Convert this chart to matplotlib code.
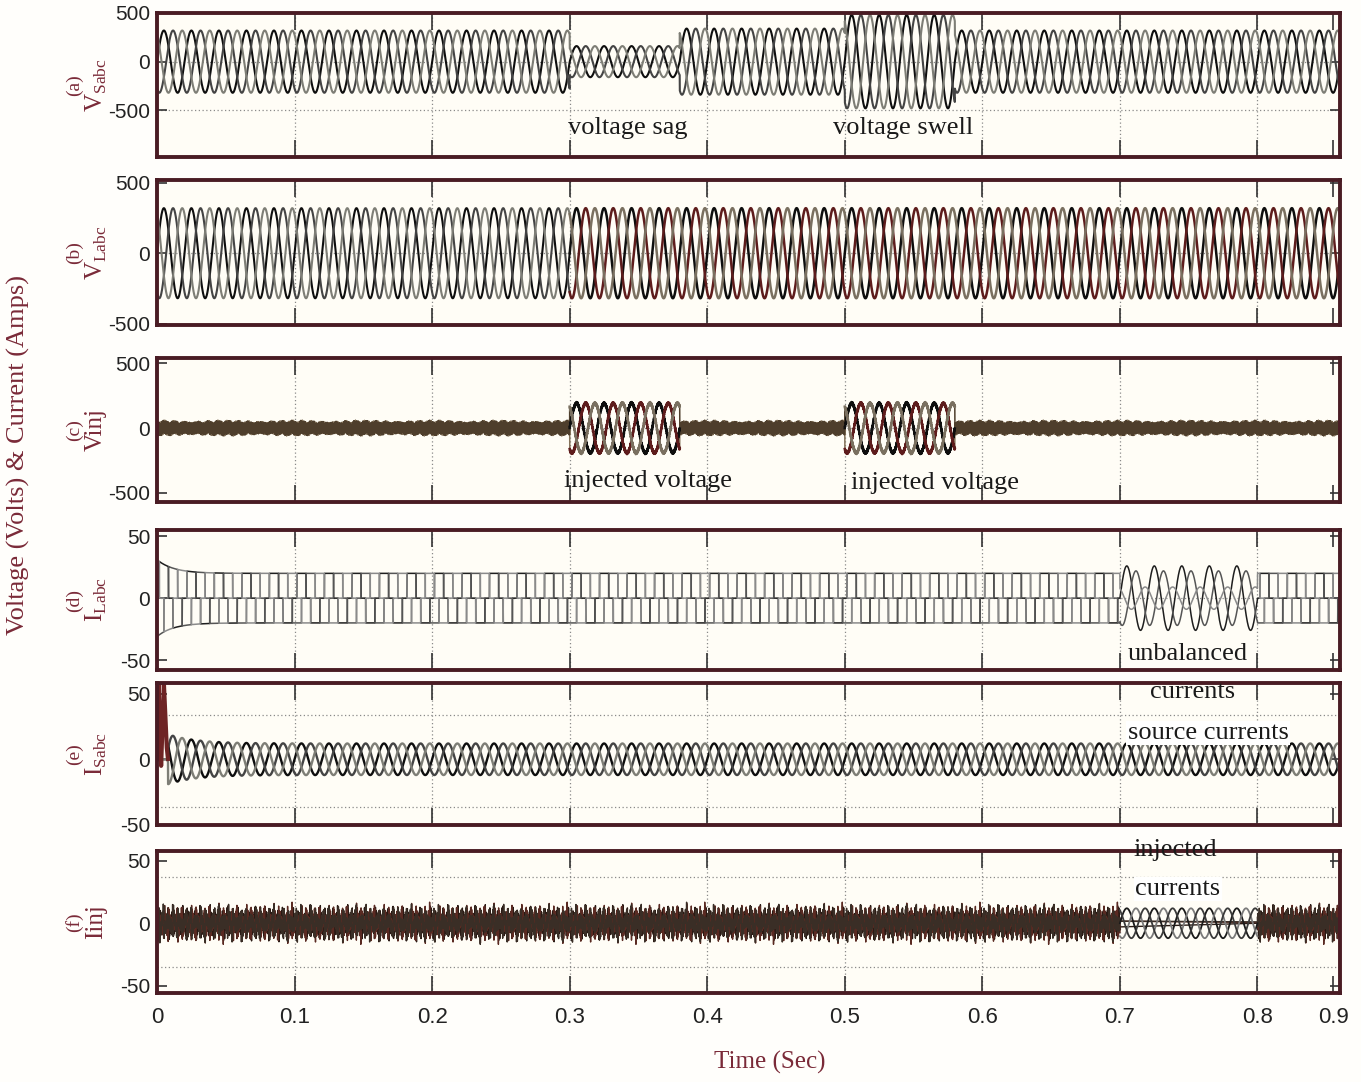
import numpy as np
import matplotlib.pyplot as plt

plt.rcParams['mathtext.fontset'] = 'custom'
plt.rcParams['mathtext.rm'] = 'Liberation Serif'

# -----------------------------
# Time base
# -----------------------------
f_line = 50.0
t_end = 0.86
dt = 2e-5
t = np.arange(0.0, t_end, dt)

# (a) source voltage: segment edges [s] and peak values [V]
vs_edges = [0.0, 0.30, 0.38, 0.50, 0.58, 0.86]
vs_peaks = [320, 160, 340, 480, 320]

# (b) load voltage
vl_peak = 320
comp_start = 0.30

# (c) injected voltage windows and peaks, plus switching ripple
vinj_windows = [(0.30, 0.38), (0.50, 0.58)]
vinj_peaks = [190, 190]
ripple_freqs = [2150, 3370, 4610, 6890]
vinj_ripple_amps = [24, 16, 12, 9]

# (d) load current
il_peak = 20
il_start_peak = 31
il_decay = 0.012
unbal_window = (0.70, 0.80)
unbal_peaks = [26, 22, 9]

# (e) source current
is_peak = 12
is_start_peak = 19
is_decay = 0.02
is_start = 0.008
is_kick_t = [0.0, 0.001, 0.003, 0.005, 0.007, 0.008]
is_kick_i = [0, 62, -5, 58, 10, 0]

# (f) injected current
iinj_unbal_peak = 12
iinj_start_peak = 22
iinj_ripple_amps = [2.5, 2.0, 1.5, 1.0]

# axis settings per panel
panel_tags = ['(a)', '(b)', '(c)', '(d)', '(e)', '(f)']
panel_names = [r'V$_{\mathrm{Sabc}}$', r'V$_{\mathrm{Labc}}$', 'Vinj',
               r'I$_{\mathrm{Labc}}$', r'I$_{\mathrm{Sabc}}$', 'Iinj']
panel_ylims = [(-980, 500), (-510, 520), (-570, 540),
               (-58, 55), (-49, 58), (-56, 58)]
panel_yticks = [[-500, 0, 500], [-500, 0, 500], [-500, 0, 500],
                [-50, 0, 50], [-50, 0, 50], [-50, 0, 50]]
panel_hlines = [[-500, 0], [0], [0], [0], [-36, 34], [-35, 37]]

x_ticks = [0.0, 0.1, 0.2, 0.3, 0.4, 0.5, 0.6, 0.7, 0.8, 0.855]
x_ticklabels = ['0', '0.1', '0.2', '0.3', '0.4', '0.5', '0.6', '0.7', '0.8', '0.9']
x_grid = [0.1, 0.2, 0.3, 0.4, 0.5, 0.6, 0.7, 0.8]

# -----------------------------
# Waveforms
# -----------------------------
w = 2 * np.pi * f_line
shifts = np.array([0.0, -2 * np.pi / 3, 2 * np.pi / 3])


def three_phase(peak):
    return [peak * np.sin(w * t + s) for s in shifts]


def quasi_square(peak):
    # 120 degree conduction current of a bridge rectifier load
    out = []
    for s in shifts:
        sn = np.sin(w * t + s)
        out.append(peak * ((sn > 0.5).astype(float) - (sn < -0.5).astype(float)))
    return out


def ripple(amps, k):
    r = np.zeros_like(t)
    for j, (fr, a) in enumerate(zip(ripple_freqs, amps)):
        r += a * np.sin(2 * np.pi * fr * t + 1.3 * (j + 1) * k)
    return r


# (a)
vs_env = np.zeros_like(t)
for i in range(len(vs_peaks)):
    m = (t >= vs_edges[i]) & (t < vs_edges[i + 1])
    vs_env[m] = vs_peaks[i]
va = [vs_env * np.sin(w * t + s) for s in shifts]

# (b)
vb = three_phase(vl_peak)

# (c)
vc = []
for k in range(3):
    v = ripple(vinj_ripple_amps, k)
    for (t0, t1), pk in zip(vinj_windows, vinj_peaks):
        m = (t >= t0) & (t < t1)
        v[m] = pk * np.sin(w * t[m] + shifts[k]) + 0.2 * v[m]
    vc.append(v)

# (d)
il_env = il_peak + (il_start_peak - il_peak) * np.exp(-t / il_decay)
il = [il_env / il_peak * q for q in quasi_square(il_peak)]
m_un = (t >= unbal_window[0]) & (t < unbal_window[1])
for k in range(3):
    il[k][m_un] = unbal_peaks[k] * np.sin(w * t[m_un] + shifts[k])

# (e)
is_env = is_peak + (is_start_peak - is_peak) * np.exp(-(t - is_start) / is_decay)
is_env[t < is_start] = 0.0
ie = [is_env * np.sin(w * t + s) for s in shifts]
m_kick = t < is_kick_t[-1]
ie[0][m_kick] = np.interp(t[m_kick], is_kick_t, is_kick_i)

# (f) harmonic part of the load current plus switching ripple
fund = 2 * np.sqrt(3) / np.pi * il_peak
sq = quasi_square(il_peak)
start_env = 1 + (iinj_start_peak / il_peak - 1) * np.exp(-t / 0.006)
iinj = []
for k in range(3):
    i_h = (sq[k] - fund * np.sin(w * t + shifts[k])) * start_env + ripple(iinj_ripple_amps, k)
    i_h[m_un] = iinj_unbal_peak * np.sin(w * t[m_un] + shifts[k])
    iinj.append(i_h)

# -----------------------------
# Figure
# -----------------------------
W, H = 1361, 1082
fig = plt.figure(figsize=(W / 100, H / 100), dpi=100)
fig.patch.set_facecolor('#fffefb')

# axes boxes in pixels: (top, bottom)
boxes = [(13, 157), (180, 325), (358, 502), (530, 670), (683, 825), (851, 993)]
left_px, right_px = 157, 1340

spine_col = '#4a1c24'
label_col = '#7a2a38'
grid_col = '#8a8a8a'

axes = []
for (top, bot) in boxes:
    ax = fig.add_axes([left_px / W, 1 - bot / H, (right_px - left_px) / W, (bot - top) / H])
    axes.append(ax)

phase_dark = ['#0e0e0e', '#444444', '#7e7e76']
phase_mix = ['#0e0e0e', '#5e1c1c', '#7a7060']
band_cols = ['#6a5840', '#85735a', '#4e3e2c']

# (a)
for k in range(3):
    axes[0].plot(t, va[k], color=phase_dark[k], lw=1.5)
# (b)
pre = t < comp_start
for k in range(3):
    axes[1].plot(t[pre], vb[k][pre], color=phase_dark[k], lw=1.5)
    axes[1].plot(t[~pre], vb[k][~pre], color=phase_mix[k], lw=1.8)
# (c)
for k in range(3):
    axes[2].plot(t, vc[k], color=band_cols[k], lw=1.1)
for (t0, t1) in vinj_windows:
    m = (t >= t0) & (t < t1)
    for k in range(3):
        axes[2].plot(t[m], vc[k][m], color=phase_mix[k], lw=1.8)
# (d)
for k in range(3):
    axes[3].plot(t, il[k], color=['#1e1e1e', '#555555', '#8a8a8a'][k], lw=1.1)
# (e)
for k in range(3):
    axes[4].plot(t, ie[k], color=phase_dark[k], lw=1.7)
axes[4].plot(t[m_kick], ie[0][m_kick], color='#6e2424', lw=3)
# (f)
for k in range(3):
    axes[5].plot(t[~m_un], iinj[k][~m_un], color=['#2a1a14', '#5a2a22', '#3a2e26'][k], lw=1.0)
for k in range(3):
    axes[5].plot(t[m_un], iinj[k][m_un], color=['#1a1a1a', '#7a7a7a', '#3a3a3a'][k], lw=1.3)

tick_family = ['Liberation Sans Narrow', 'DejaVu Sans Condensed', 'Liberation Sans']
for i, ax in enumerate(axes):
    ax.set_facecolor('#fffdf6')
    ax.set_xlim(0, t_end)
    ax.set_ylim(*panel_ylims[i])
    ax.set_yticks(panel_yticks[i])
    ax.set_yticklabels([str(v) for v in panel_yticks[i]],
                       family=tick_family, fontsize=15, color='#222222')
    ax.set_xticks(x_ticks)
    if i == len(axes) - 1:
        ax.set_xticklabels(x_ticklabels, family='Liberation Sans', fontsize=16, color='#222222')
    else:
        ax.set_xticklabels([])
    ax.tick_params(axis='x', direction='in', length=12, width=1.2, top=True, bottom=True, color='#333333', pad=10)
    ax.tick_params(axis='y', direction='in', length=7, width=1.2, left=True, right=True, color='#333333', pad=5)
    for xg in x_grid:
        ax.axvline(xg, color=grid_col, lw=0.9, ls=(0, (1, 2)), zorder=0)
    for yg in panel_hlines[i]:
        ax.axhline(yg, color=grid_col, lw=0.9, ls=(0, (1, 2)), zorder=0)
    for s in ax.spines.values():
        s.set_color(spine_col)
        s.set_linewidth(2.8)

    yc = 1 - (boxes[i][0] + boxes[i][1]) / 2 / H
    fig.text(74 / W, yc, panel_tags[i], rotation=90, ha='center', va='center',
             family='Liberation Serif', fontsize=14, color=label_col)
    fig.text(96 / W, yc, panel_names[i], rotation=90, ha='center', va='center',
             family='Liberation Serif', fontsize=18, color=label_col)

fig.text(18 / W, 1 - 455 / H, 'Voltage (Volts) & Current (Amps)', rotation=90,
         ha='center', va='center', family='Liberation Serif', fontsize=19, color=label_col)
fig.text(770 / W, 1 - 1062 / H, 'Time (Sec)', ha='center', va='center',
         family='Liberation Serif', fontsize=18, color=label_col)

# event annotations
notes = [
    ('voltage sag', 628, 128, False),
    ('voltage swell', 903, 128, False),
    ('injected voltage', 648, 481, False),
    ('injected voltage', 935, 483, False),
    ('unbalanced', 1188, 654, False),
    ('currents', 1193, 692, False),
    ('source currents', 1208, 733, True),
    ('injected', 1175, 850, False),
    ('currents', 1178, 889, True),
]
for txt, x, y, boxed in notes:
    kw = dict(ha='center', va='center', family='Liberation Serif', fontsize=19, color='#1a1a1a')
    if boxed:
        kw['bbox'] = dict(facecolor='white', edgecolor='none', pad=1)
    fig.text(x / W, 1 - y / H, txt, **kw)

fig.savefig('out.png', dpi=100, facecolor=fig.get_facecolor())
